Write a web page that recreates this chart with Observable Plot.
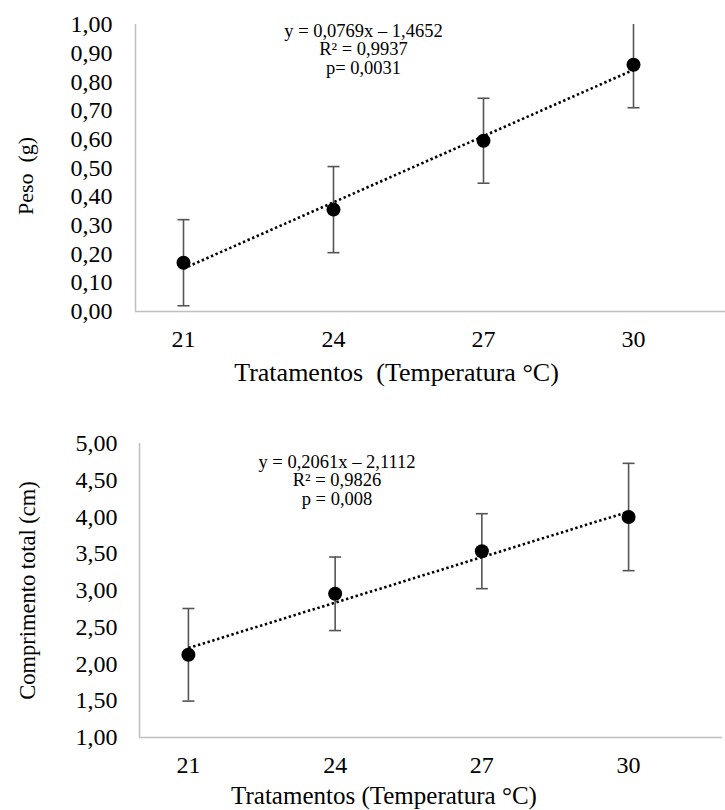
<!DOCTYPE html>
<html>
<head>
<meta charset="utf-8">
<script src="https://cdn.jsdelivr.net/npm/d3@7"></script>
<script src="https://cdn.jsdelivr.net/npm/@observablehq/plot@0.6"></script>
<style>
  html, body { margin: 0; padding: 0; background: #fff; }
  #chart { width: 725px; }
  #chart svg { display: block; }
  #chart svg, #chart svg text { font-family: "Liberation Serif", "Times New Roman", serif !important; }
</style>
</head>
<body>
<div id="chart"></div>
<script>
// ---- Data ----
const temperaturas = [21, 24, 27, 30];
const xTicks = [21, 24, 27, 30];

// Panel 1: Peso (g)
const pesoMedia = [0.17, 0.355, 0.595, 0.86];
const pesoErro = [0.15, 0.15, 0.148, 0.15];
const pesoTicks = [0, 0.1, 0.2, 0.3, 0.4, 0.5, 0.6, 0.7, 0.8, 0.9, 1.0];
const pesoCoef = [0.0769, -1.4652]; // slope, intercept
const pesoEq = ["y = 0,0769x \u2013 1,4652", "R\u00b2 = 0,9937", "p= 0,0031"];

// Panel 2: Comprimento total (cm)
const compMedia = [2.125, 2.955, 3.535, 4.0];
const compErro = [0.63, 0.5, 0.51, 0.73];
const compTicks = [1, 1.5, 2, 2.5, 3, 3.5, 4, 4.5, 5];
const compCoef = [0.2061, -2.1112];
const compEq = ["y = 0,2061x \u2013 2,1112", "R\u00b2 = 0,9826", "p = 0,008"];

const xLabel1 = "Tratamentos\u00a0\u00a0(Temperatura \u00b0C)";
const xLabel2 = "Tratamentos (Temperatura \u00b0C)";
const yLabel1 = "Peso\u00a0\u00a0(g)";
const yLabel2 = "Comprimento total (cm)";

// ---- Helpers ----
const FONT = "Liberation Serif";
const fmt = d => d.toFixed(2).replace(".", ",");
const capSymbol = {
  draw(context, size) {
    const w = 6;
    context.moveTo(-w, 0);
    context.lineTo(w, 0);
  }
};

function panel(cfg) {
  const rows = temperaturas.map((t, i) => ({
    t, m: cfg.media[i], lo: cfg.media[i] - cfg.erro[i], hi: cfg.media[i] + cfg.erro[i]
  }));
  const trend = [temperaturas[0], temperaturas[temperaturas.length - 1]].map(t => ({
    t, y: cfg.coef[0] * t + cfg.coef[1]
  }));
  return Plot.plot({
    width: 725,
    height: cfg.height,
    marginTop: cfg.marginTop,
    marginBottom: cfg.marginBottom,
    marginLeft: cfg.marginLeft,
    marginRight: cfg.marginRight,
    style: {fontFamily: FONT, color: "#000", background: "#fff", overflow: "visible"},
    x: {domain: cfg.xDomain},
    y: {domain: cfg.yDomain},
    marks: [
      Plot.ruleY([cfg.yDomain[0]], {stroke: "#bfbfbf", strokeWidth: 1.5}),
      Plot.ruleX([cfg.xDomain[0]], {stroke: "#bfbfbf", strokeWidth: 1.5}),
      Plot.axisY({ticks: cfg.ticks, tickFormat: fmt, tickSize: 0, tickPadding: cfg.yPad, fontSize: 24, fontFamily: FONT, label: null}),
      Plot.axisX({ticks: xTicks, tickFormat: d => String(d), tickSize: 0, tickPadding: 18, fontSize: 24, fontFamily: FONT, label: null}),
      Plot.ruleX(rows, {x: "t", y1: "lo", y2: "hi", stroke: "#555", strokeWidth: 1.6, clip: true}),
      Plot.dot(rows, {x: "t", y: "lo", symbol: capSymbol, stroke: "#555", strokeWidth: 1.6, fill: "none", clip: true}),
      Plot.dot(rows, {x: "t", y: "hi", symbol: capSymbol, stroke: "#555", strokeWidth: 1.6, fill: "none", clip: true}),
      Plot.line(trend, {x: "t", y: "y", stroke: "#000", strokeWidth: 2.6, strokeLinecap: "butt", strokeDasharray: "2.4,2.6"}),
      Plot.dot(rows, {x: "t", y: "m", r: 7, fill: "#000", stroke: "none"}),
      Plot.text([cfg.eq.join("\n")], {frameAnchor: "top", dx: cfg.eqDx, dy: cfg.eqDy, lineAnchor: "top",
        fontSize: 18.5, lineHeight: 1.0, textAnchor: "middle", fill: "#000", fontFamily: FONT}),
      Plot.text([cfg.xLabel], {frameAnchor: "bottom", dx: cfg.xlDx, dy: cfg.xlDy, lineAnchor: "middle",
        textAnchor: "middle", fontSize: cfg.xlSize, fill: "#000", fontFamily: FONT}),
      Plot.text([cfg.yLabel], {frameAnchor: "left", dx: cfg.ylDx, dy: cfg.ylDy, rotate: -90, lineAnchor: "middle",
        textAnchor: "middle", fontSize: cfg.ylSize, fill: "#000", fontFamily: FONT})
    ]
  });
}

const chart = document.getElementById("chart");
chart.append(panel({
  height: 410, marginTop: 24, marginBottom: 99, marginLeft: 135, marginRight: 0,
  xDomain: [20.04, 31.84], yDomain: [0, 1],
  media: pesoMedia, erro: pesoErro, coef: pesoCoef, ticks: pesoTicks, yPad: 23,
  eq: pesoEq, eqDx: -67, eqDy: -1,
  xLabel: xLabel1, xlDx: -34, xlDy: 61, xlSize: 26,
  yLabel: yLabel1, ylDx: -110, ylDy: 8, ylSize: 22
}));
chart.append(panel({
  height: 400, marginTop: 33, marginBottom: 73, marginLeft: 139, marginRight: 3,
  xDomain: [20.0, 31.92], yDomain: [1, 5],
  media: compMedia, erro: compErro, coef: compCoef, ticks: compTicks, yPad: 22,
  eq: compEq, eqDx: -94, eqDy: 11,
  xLabel: xLabel2, xlDx: -47, xlDy: 58, xlSize: 25,
  yLabel: yLabel2, ylDx: -112, ylDy: 0, ylSize: 22.5
}));
</script>
</body>
</html>
